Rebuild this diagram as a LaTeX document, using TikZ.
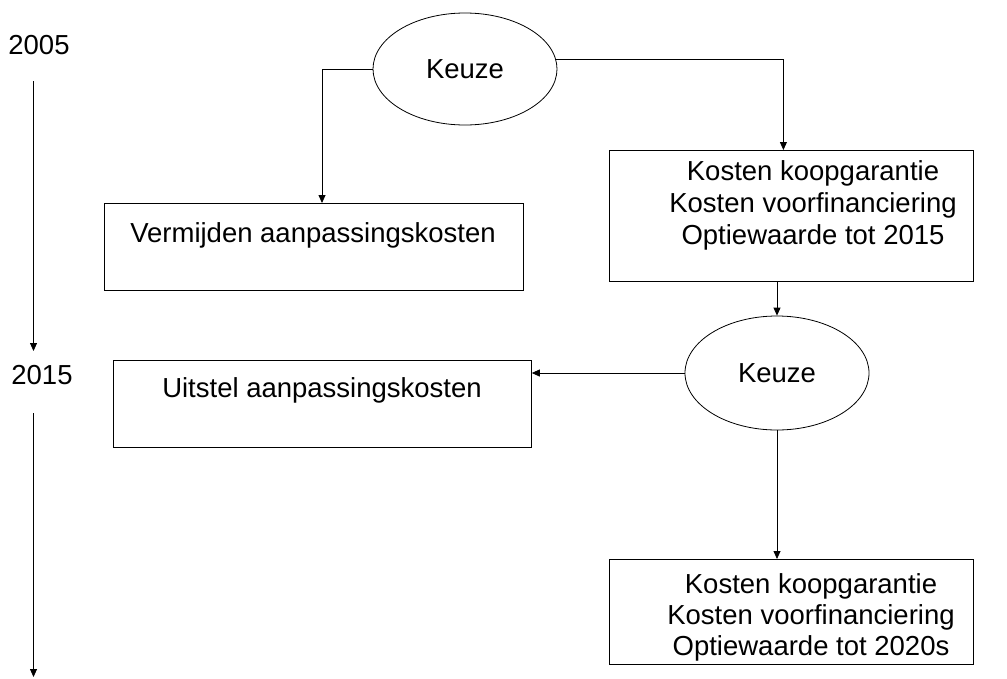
\documentclass[tikz,border=0pt]{standalone}
\usepackage{fontspec}
\setmainfont{Liberation Sans}
\usetikzlibrary{arrows.meta,shapes.geometric,calc}
\begin{document}
\begin{tikzpicture}[x=1pt,y=-1pt,
  every node/.style={font=\fontsize{27.5}{32}\selectfont},
  box/.style={draw, line width=0.8pt, inner sep=0pt, anchor=north west},
  oval/.style={draw, ellipse, line width=0.8pt, inner sep=0pt},
  conn/.style={line width=0.8pt, -{Triangle[length=8pt,width=7pt]}},
  plainline/.style={line width=0.8pt}]
\useasboundingbox (0,0) rectangle (1007,678);
% timeline
\node (y2005) at (39,45) {2005};
\node (y2015) at (42,375) {2015};
\coordinate (t1a) at (33.5,81);
\coordinate (t1b) at (33.5,351);
\coordinate (t2a) at (33.5,413);
\coordinate (t2b) at (33.5,677);
\draw[conn] (t1a) -- (t1b);
\draw[conn] (t2a) -- (t2b);
% first choice
\node[oval, minimum width=184pt, minimum height=112pt] (e1) at (465,69) {Keuze};
\node[box, minimum width=419pt, minimum height=87pt] (b1) at (104,203) {};
\node[anchor=base] (b1t) at (313,242) {Vermijden aanpassingskosten};
\node[box, minimum width=364pt, minimum height=131pt] (b2) at (609,150) {};
\node[align=center] (b2t) at (813,205) {Kosten koopgarantie\\Kosten voorfinanciering\\Optiewaarde tot 2015};
\coordinate (c1) at ($(b1.north west)+(218,0)$);
\draw[conn] (e1.west) -| (c1);
\draw[conn] (e1.6) -| ([xshift=-8pt]b2.north);
% second choice
\node[oval, minimum width=184pt, minimum height=114pt] (e2) at (777,373) {Keuze};
\draw[conn] (e2.north |- b2.south) -- (e2.north);
\node[box, minimum width=418pt, minimum height=87pt] (b3) at (113,360) {};
\node[anchor=base] (b3t) at (322,397) {Uitstel aanpassingskosten};
\draw[conn] (e2.west) -- (e2.west -| b3.east);
\node[box, minimum width=364pt, minimum height=105pt] (b4) at (609,559) {};
\node[align=center, font=\fontsize{27.5}{31}\selectfont] (b4t) at (811,617) {Kosten koopgarantie\\Kosten voorfinanciering\\Optiewaarde tot 2020s};
\draw[conn] (e2.south) -- (e2.south |- b4.north);
\end{tikzpicture}
\end{document}
